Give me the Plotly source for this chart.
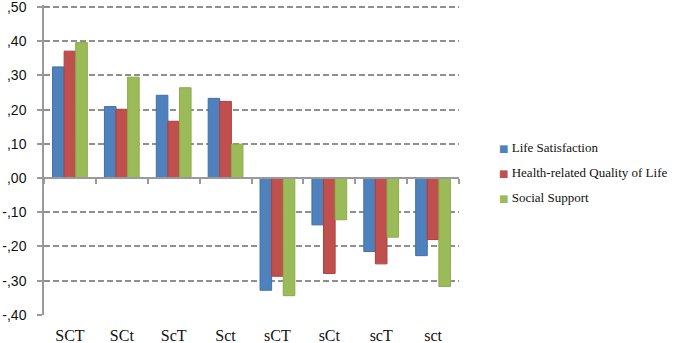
import plotly.graph_objects as go

categories = ["SCT", "SCt", "ScT", "Sct", "sCT", "sCt", "scT", "sct"]
life_satisfaction = [0.325, 0.209, 0.242, 0.233, -0.328, -0.137, -0.215, -0.227]
health_qol = [0.371, 0.201, 0.166, 0.224, -0.287, -0.279, -0.251, -0.180]
social_support = [0.396, 0.295, 0.264, 0.099, -0.344, -0.122, -0.173, -0.317]
series_names = ["Life Satisfaction", "Health-related Quality of Life", "Social Support"]
y_tickvals = [0.5, 0.4, 0.3, 0.2, 0.1, 0.0, -0.1, -0.2, -0.3, -0.4]
y_ticktext = [",50", ",40", ",30", ",20", ",10", ",00", "-,10", "-,20", "-,30", "-,40"]

fills = ["#4F81BD", "#C0504D", "#9BBB59"]
edges = ["#3F6FAD", "#B03F3C", "#8AAD48"]

ymin, ymax = -0.4, 0.5
SERIF = "Liberation Serif"

fig = go.Figure()
for i, (name, vals) in enumerate(zip(series_names, [life_satisfaction, health_qol, social_support])):
    fig.add_trace(go.Bar(
        x=categories, y=vals, name=name, showlegend=False,
        marker=dict(color=fills[i], line=dict(color=edges[i], width=1)),
    ))

# legend entries: small coloured square drawn as text next to the label
for i, name in enumerate(series_names):
    fig.add_trace(go.Scatter(
        x=[None], y=[None], mode="markers", legendgroup=name, showlegend=True,
        name=f'<span style="color:{fills[i]};font-family:DejaVu Sans;font-size:10px">■</span> {name}',
        marker=dict(color="rgba(0,0,0,0)", size=1), hoverinfo="skip",
    ))

# invisible helper trace so the zero-line tick axis renders
fig.add_trace(go.Scatter(x=categories, y=[None] * len(categories), xaxis="x2",
                         showlegend=False, hoverinfo="skip", mode="markers"))

pad_top = 0.006
zero_frac = (0 - ymin) / (ymax + pad_top - ymin)

fig.update_layout(
    width=680, height=343,
    margin=dict(l=44, r=202, t=5, b=28),
    paper_bgcolor="white", plot_bgcolor="white",
    barmode="group", bargap=0.33, bargroupgap=0,
    font=dict(family=SERIF, color="#222222"),
    xaxis=dict(
        type="category", showline=False, ticks="", showgrid=False, automargin=False,
        tickfont=dict(family=SERIF, size=16, color="#111111"),
        ticklabelstandoff=9,
    ),
    xaxis2=dict(
        type="category", overlaying="x", matches="x", anchor="free", position=zero_frac,
        side="bottom", showticklabels=False, showgrid=False, automargin=False,
        showline=True, linecolor="#9a9a9a", linewidth=1.5,
        ticks="outside", tickson="boundaries", ticklen=5, tickcolor="#9a9a9a", tickwidth=1.5,
    ),
    yaxis=dict(
        range=[ymin - 0.0005, ymax + pad_top], tickvals=y_tickvals, ticktext=y_ticktext,
        showgrid=True, gridcolor="#8f8f8f", gridwidth=1.5, griddash="6px,3px",
        zeroline=False, automargin=False, ticklabeloverflow="allow",
        showline=True, linecolor="#9a9a9a", linewidth=1.5,
        ticks="outside", ticklen=5, tickcolor="#9a9a9a", tickwidth=1.5,
        tickfont=dict(family="Liberation Sans", size=14, color="#111111"),
        ticklabelstandoff=8,
    ),
    legend=dict(
        xref="container", yref="container",
        x=459 / 680, xanchor="left", y=1 - 172 / 343, yanchor="middle",
        font=dict(family=SERIF, size=13, color="#111111"),
        tracegroupgap=5, bgcolor="rgba(0,0,0,0)", itemwidth=30, borderwidth=0,
    ),
    showlegend=True,
)

fig.write_html(
    "out.html",
    config={"displayModeBar": False},
    post_script="document.body.style.margin='0';document.body.style.overflow='hidden';",
)
